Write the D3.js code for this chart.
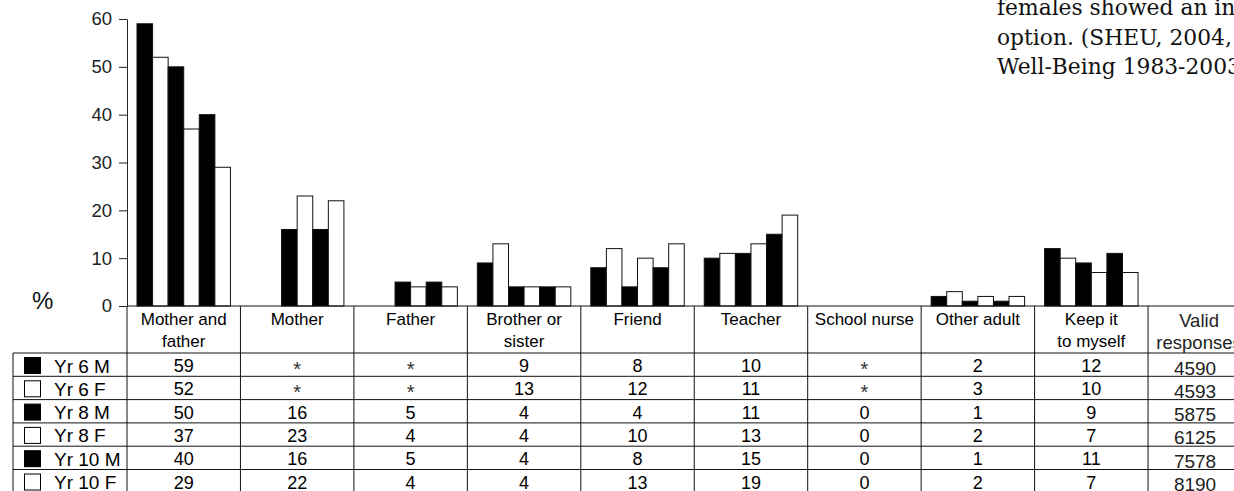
<!DOCTYPE html>
<html>
<head>
<meta charset="utf-8">
<script src="https://cdn.jsdelivr.net/npm/d3@7"></script>
<style>
  html, body { margin: 0; padding: 0; background: #fff; }
  svg { display: block; }
  .sans { font-family: "Liberation Sans", Arial, sans-serif; }
  .serif { font-family: "DejaVu Serif", Georgia, serif; }
</style>
</head>
<body>
<svg id="chart" width="1234" height="491"></svg>
<script>
// ---- data ----
const categories = ["Mother and father","Mother","Father","Brother or sister","Friend","Teacher","School nurse","Other adult","Keep it to myself"];
const headerLines = [["Mother and","father"],["Mother"],["Father"],["Brother or","sister"],["Friend"],["Teacher"],["School nurse"],["Other adult"],["Keep it","to myself"]];
const series = ["Yr 6 M","Yr 6 F","Yr 8 M","Yr 8 F","Yr 10 M","Yr 10 F"];
const seriesFill = ["#000","#fff","#000","#fff","#000","#fff"];
const yr6M  = [59, null, null, 9, 8, 10, null, 2, 12];
const yr6F  = [52, null, null, 13, 12, 11, null, 3, 10];
const yr8M  = [50, 16, 5, 4, 4, 11, 0, 1, 9];
const yr8F  = [37, 23, 4, 4, 10, 13, 0, 2, 7];
const yr10M = [40, 16, 5, 4, 8, 15, 0, 1, 11];
const yr10F = [29, 22, 4, 4, 13, 19, 0, 2, 7];
const validResponses = [4590, 4593, 5875, 6125, 7578, 8190];
const yTicks = [0, 10, 20, 30, 40, 50, 60];
const noteLines = ["females showed an increase", "option. (SHEU, 2004, Young", "Well-Being 1983-2003)"];

const values = [yr6M, yr6F, yr8M, yr8F, yr10M, yr10F];

// ---- layout ----
const svg = d3.select("#chart");
const axisX = 127, catW = 113.45;
const plotTop = 19, plotBottom = 306;
const headerBottom = 353, rowH = 23.3;
const tableLeft = 13, W = 1234;

const x = d3.scaleBand().domain(categories).range([axisX, axisX + catW * categories.length]);
const xs = d3.scaleBand().domain(series).range([10, catW - 10]);
const y = d3.scaleLinear().domain([0, 60]).range([plotBottom, plotTop]);
const validX = x.range()[1];

// note text (top right)
const note = svg.append("g").attr("class", "serif").attr("fill", "#111").style("font-size", "21.8px");
noteLines.forEach((t, i) => {
  note.append("text").attr("x", 997).attr("y", 15 + i * 29.5).text(t);
});

// bars
const barData = [];
series.forEach((s, si) => {
  categories.forEach((c, ci) => {
    const v = values[si][ci];
    if (v != null && v > 0) barData.push({s, si, c, v});
  });
});
svg.append("g").selectAll("rect").data(barData).join("rect")
  .attr("x", d => x(d.c) + xs(d.s))
  .attr("y", d => y(d.v))
  .attr("width", xs.bandwidth())
  .attr("height", d => y(0) - y(d.v))
  .attr("fill", d => seriesFill[d.si])
  .attr("stroke", "#111")
  .attr("stroke-width", 1);

// y axis
const yAxis = svg.append("g")
  .attr("transform", `translate(${axisX},0)`)
  .call(d3.axisLeft(y).tickValues(yTicks).tickSize(8).tickSizeOuter(0).tickPadding(7));
yAxis.select(".domain").attr("stroke", "#222");
yAxis.selectAll(".tick line").attr("stroke", "#222");
yAxis.selectAll(".tick text").attr("class", "sans").style("font-size", "18.5px").attr("fill", "#222");

svg.append("text").attr("class", "sans").attr("x", 32).attr("y", 309)
  .style("font-size", "24px").attr("fill", "#111").text("%");

// ---- table ----
const grid = svg.append("g").attr("stroke", "#111").attr("stroke-width", 1).attr("fill", "none");
grid.append("line").attr("x1", axisX).attr("x2", W).attr("y1", plotBottom).attr("y2", plotBottom);
const rowTops = series.map((s, i) => headerBottom + i * rowH);
rowTops.concat([headerBottom + series.length * rowH]).forEach(ry => {
  grid.append("line").attr("x1", tableLeft).attr("x2", W).attr("y1", ry).attr("y2", ry);
});
grid.append("line").attr("x1", tableLeft).attr("x2", tableLeft).attr("y1", headerBottom).attr("y2", 491);
categories.concat(["__end"]).forEach((c, i) => {
  const vx = axisX + i * catW;
  grid.append("line").attr("x1", vx).attr("x2", vx).attr("y1", plotBottom).attr("y2", 491);
});

// header text
const hdr = svg.append("g").attr("class", "sans").attr("fill", "#000").style("font-size", "17px").attr("text-anchor", "middle");
categories.forEach((c, i) => {
  headerLines[i].forEach((t, j) => {
    hdr.append("text").attr("x", x(c) + x.bandwidth() / 2).attr("y", 325 + j * 22).text(t);
  });
});
const validCx = validX + 47;
hdr.append("text").attr("x", validCx + 4).attr("y", 327).style("font-size", "18.5px").attr("fill", "#222").text("Valid");
hdr.append("text").attr("x", validCx + 4).attr("y", 349).style("font-size", "18.5px").attr("fill", "#222").text("responses");

// legend + values
const body = svg.append("g").attr("class", "sans").style("font-size", "18px");
series.forEach((s, si) => {
  const top = rowTops[si];
  body.append("rect").attr("x", 24.5).attr("y", top + 4.5).attr("width", 16).attr("height", 16)
    .attr("fill", seriesFill[si]).attr("stroke", "#000").attr("stroke-width", 1);
  body.append("text").attr("x", 54).attr("y", top + 19.5).style("font-size", "19px").attr("fill", "#000").text(s);
  categories.forEach((c, ci) => {
    const v = values[si][ci];
    body.append("text")
      .attr("x", x(c) + x.bandwidth() / 2)
      .attr("y", top + 19 + (v == null ? 4 : 0))
      .attr("text-anchor", "middle")
      .attr("fill", v == null ? "#333" : "#000")
      .style("font-size", v == null ? "20px" : null)
      .text(v == null ? "*" : v);
  });
  body.append("text").attr("x", validCx).attr("y", top + 21.5).attr("text-anchor", "middle")
    .style("font-size", "19px").attr("fill", "#222").text(validResponses[si]);
});
</script>
</body>
</html>
